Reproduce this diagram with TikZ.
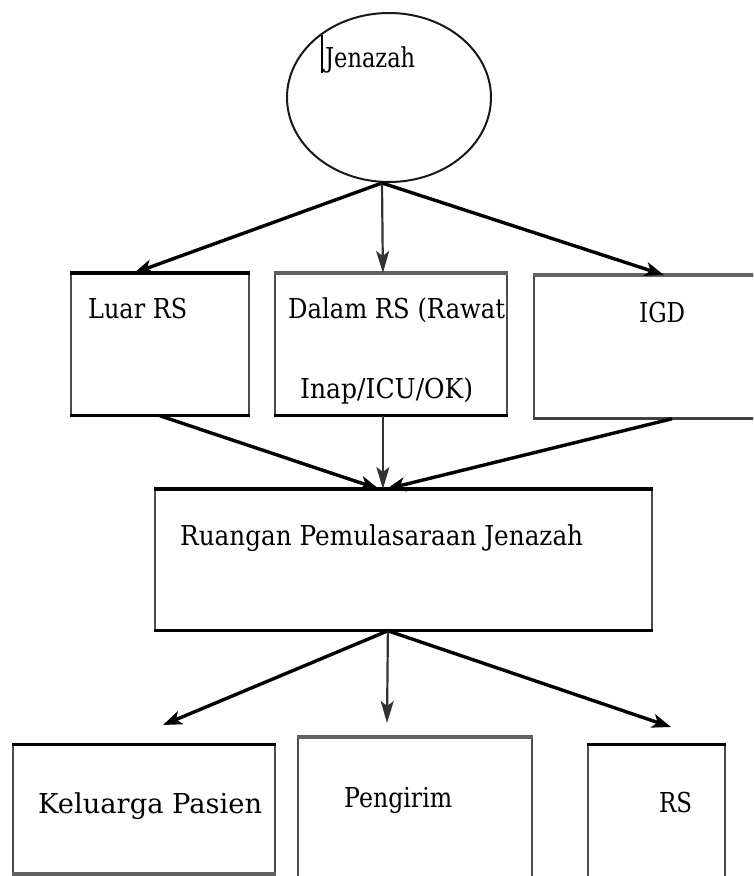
\documentclass[tikz,border=0pt]{standalone}
\usepackage{fontspec}
\setmainfont{DejaVu Serif}
\usepackage{graphicx}
\usetikzlibrary{arrows.meta,shapes.geometric}
\newcommand\fitw[2]{\resizebox{#1pt}{\height}{#2}}
\begin{document}
\begin{tikzpicture}[x=1pt,y=-1pt,
  box/.style={draw=black!70, line width=1.8pt, rectangle, inner sep=0pt, anchor=north west},
  oval/.style={draw=black!90, line width=2pt, ellipse, inner sep=0pt, minimum width=204pt, minimum height=169pt},
  lbl/.style={inner sep=0pt, anchor=base west, font=\fontsize{27.4pt}{30pt}\selectfont},
  edgeK/.style={line width=4pt, black},
  edgeG/.style={line width=4.5pt, black!62},
  edgeB/.style={line width=3pt, black},
  arr/.style={-{Stealth[length=19pt,width=14pt,inset=5pt]}, line width=3.4pt, black},
  varr/.style={-{Stealth[length=22pt,width=13pt,inset=5pt]}, line width=2.2pt, black!80}]
\useasboundingbox (0,0) rectangle (753,876);
\clip (0,0) rectangle (753,876);
\fill[white] (0,0) rectangle (753,876);

% nodes
\node[oval] (jen) at (389,97.5) {};
\node[box, minimum width=178pt, minimum height=141pt] (luar) at (70,273) {};
\node[box, minimum width=232pt, minimum height=141pt] (dalam) at (274,273) {};
\node[box, minimum width=240pt, minimum height=142pt] (igd) at (533,275) {};
\node[box, minimum width=497pt, minimum height=140pt] (ruang) at (154,489) {};
\node[box, minimum width=262pt, minimum height=128pt] (kel) at (12,744) {};
\node[box, minimum width=234pt, minimum height=150pt] (peng) at (297,737) {};
\node[box, minimum width=137pt, minimum height=140pt] (rs) at (587,744) {};

% emphasised edges
\draw[edgeK] (luar.north west) -- (luar.north east);
\draw[edgeB] (luar.south west) -- (luar.south east);
\draw[edgeG] (dalam.north west) -- (dalam.north east);
\draw[edgeB] (dalam.south west) -- (dalam.south east);
\draw[edgeG] (igd.north west) -- (igd.north east);
\draw[edgeB,black!75] (igd.south west) -- (igd.south east);
\draw[edgeK] (ruang.north west) -- (ruang.north east);
\draw[edgeB] (ruang.south west) -- (ruang.south east);
\draw[edgeB] (kel.north west) -- (kel.north east);
\draw[edgeG] (kel.south west) -- (kel.south east);
\draw[edgeG] (peng.north west) -- (peng.north east);
\draw[edgeB] (rs.north west) -- (rs.north east);

% texts
\draw[line width=1.2pt] (322,35) -- (322,73);
\node[lbl] (tjen) at (325,67) {\fitw{90}{Jenazah}};
\node[lbl] (tluar) at (88,318) {\fitw{99}{Luar RS}};
\node[lbl] (tdal1) at (288,318) {\fitw{217}{Dalam RS (Rawat}};
\node[lbl] (tdal2) at (300,398) {\fitw{173}{Inap/ICU/OK)}};
\node[lbl] (tigd) at (639,322) {\fitw{46}{IGD}};
\node[lbl] (trua) at (180,545) {\fitw{403}{Ruangan Pemulasaraan Jenazah}};
\node[lbl] (tkel) at (38,813) {\fitw{224}{Keluarga Pasien}};
\node[lbl] (tpen) at (344,807) {\fitw{108}{Pengirim}};
\node[lbl] (trs) at (659,812) {\fitw{33}{RS}};

% free ends
\coordinate (k1) at (163,725);
\coordinate (p1) at (387,723);
\coordinate (r1) at (671,727);

% connectors
\draw[arr] ([xshift=-7pt]jen.south) -- ([xshift=-26pt]luar.north);
\draw[varr] ([xshift=-7pt]jen.south) -- ([xshift=-8pt]dalam.north);
\draw[arr] ([xshift=-7pt]jen.south) -- ([xshift=10pt]igd.north);
\draw[arr] ([xshift=0pt]luar.south) -- ([xshift=-24.5pt]ruang.north);
\draw[varr] ([xshift=-8pt]dalam.south) -- ([xshift=-20.5pt]ruang.north);
\draw[arr] ([xshift=18pt]igd.south) -- ([xshift=-17pt]ruang.north);
\draw[arr] ([xshift=-15.5pt]ruang.south) -- (k1);
\draw[varr] ([xshift=-15.5pt]ruang.south) -- (p1);
\draw[arr] ([xshift=-15.5pt]ruang.south) -- (r1);
\end{tikzpicture}
\end{document}
